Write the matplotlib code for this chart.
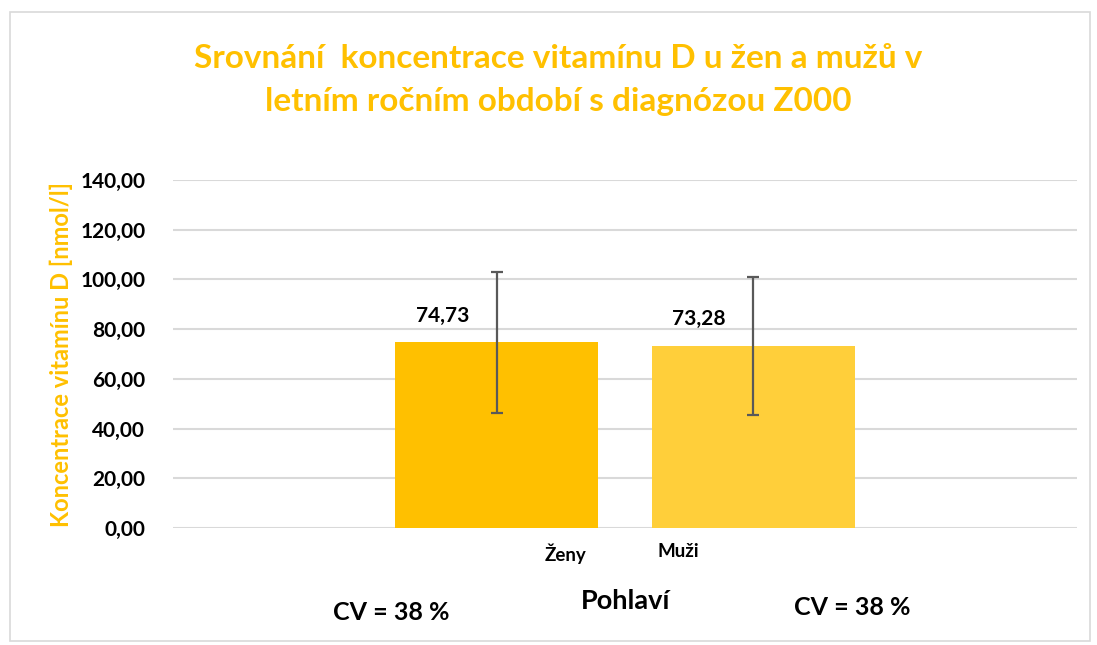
import matplotlib.pyplot as plt
from matplotlib.patches import Rectangle
from matplotlib.ticker import FuncFormatter

plt.rcParams['font.family'] = ['Lato', 'DejaVu Sans']

# data
categories = ['Ženy', 'Muži']
means = [74.73, 73.28]
sds = [28.4, 27.8]
cv_labels = ['CV = 38 %', 'CV = 38 %']
colors = ['#FFC000', '#FFCF3A']

title = 'Srovnání  koncentrace vitamínu D u žen a mužů v\nletním ročním období s diagnózou Z000'
ylabel = 'Koncentrace vitamínu D [nmol/l]'
xlabel = 'Pohlaví'

gold = '#FFC000'

fig = plt.figure( figsize=(10.97, 6.45), dpi=100 )
fig.patches.append( Rectangle( (0.009, 0.006), 0.985, 0.976, transform=fig.transFigure,
                               fill=False, edgecolor='#D9D9D9', linewidth=1.2 ) )

ax = fig.add_axes( [0.1577, 0.1814, 0.8241, 0.5395] )

bar_x = [0.358, 0.642]
tick_x = [0.434, 0.559]
width = 0.2245

ax.bar( bar_x, means, width=width, color=colors, zorder=2 )
ax.errorbar( bar_x, means, yerr=sds, fmt='none', ecolor='#595959',
             elinewidth=1.6, capsize=4.5, capthick=1.6, zorder=3 )

for xb, m in zip( bar_x, means ) :
    ax.annotate( f"{m:.2f}".replace( '.', ',' ), (xb, m), xytext=(-39, 12),
                 textcoords='offset points', ha='center', va='bottom',
                 fontsize=15, fontweight='bold', color='#000000' )

ax.set_xlim( 0, 1 )
ax.set_ylim( 0, 140 )
ax.set_yticks( range( 0, 141, 20 ) )
ax.yaxis.set_major_formatter( FuncFormatter( lambda v, p : f"{v:.2f}".replace( '.', ',' ) ) )
ax.set_xticks( tick_x, categories )
ax.tick_params( axis='x', length=0, pad=11, labelsize=13.5 )
ax.tick_params( axis='y', length=0, pad=20, labelsize=15 )
for lab in ax.get_xticklabels() + ax.get_yticklabels() :
    lab.set_fontweight( 'bold' )

ax.grid( axis='y', color='#D9D9D9', linewidth=1.5, zorder=0 )
ax.set_axisbelow( True )
for s in ax.spines.values() :
    s.set_visible( False )

ax.set_ylabel( ylabel, color=gold, fontsize=17, fontweight='bold', labelpad=5 )

fig.text( 0.509, 0.876, title, ha='center', va='center', color=gold,
          fontsize=24, fontweight='bold', linespacing=1.6 )
fig.text( 0.570, 0.068, xlabel, ha='center', va='center', fontsize=19.5, fontweight='bold' )
fig.text( 0.357, 0.050, cv_labels[0], ha='center', va='center', fontsize=18, fontweight='bold' )
fig.text( 0.777, 0.058, cv_labels[1], ha='center', va='center', fontsize=18, fontweight='bold' )

fig.savefig( 'out.png', dpi=100 )
